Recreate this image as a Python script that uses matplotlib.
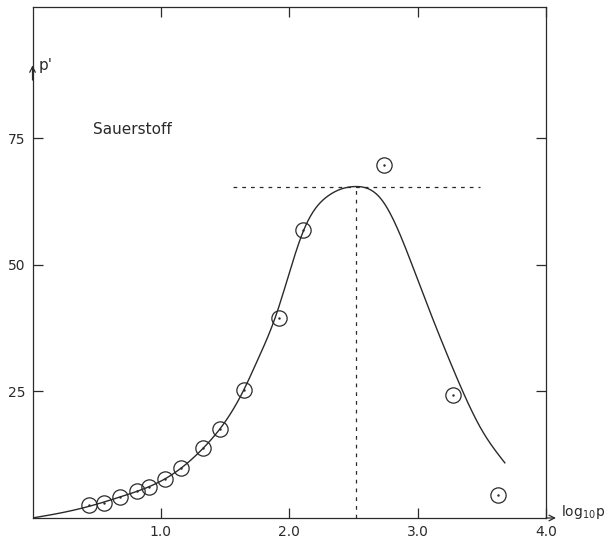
import numpy as np
import matplotlib.pyplot as plt

# measured points (log10 p, p')
meas_x = [0.44, 0.56, 0.685, 0.816, 0.908, 1.034, 1.157, 1.328, 1.459, 1.65,
          1.92, 2.11, 2.74, 3.28, 3.63]
meas_y = [2.5, 3.0, 4.1, 5.4, 6.1, 7.7, 9.9, 13.8, 17.6, 25.2,
          39.6, 57.0, 69.7, 24.4, 4.6]

# theoretical curve
curve_x = [0.0, 0.2, 0.44, 0.7, 0.9, 1.03, 1.16, 1.33, 1.46, 1.64, 1.75, 1.895,
           2.115, 2.30, 2.52, 2.72, 2.98, 3.11, 3.24, 3.37, 3.50, 3.68]
curve_y = [0.0, 0.9, 2.3, 4.3, 6.1, 7.7, 9.9, 13.8, 17.6, 25.0, 31.0, 39.9,
           57.0, 63.6, 65.5, 62.9, 48.5, 39.9, 31.7, 24.0, 17.4, 10.9]

peak_x = 2.52
peak_y = 65.5
hline_x = [1.56, 3.49]

xticks = [1.0, 2.0, 3.0, 4.0]
yticks = [25, 50, 75]


def natural_spline(xk, yk, xs):
    xk = np.asarray(xk, float)
    yk = np.asarray(yk, float)
    n = len(xk)
    h = np.diff(xk)
    A = np.zeros((n, n))
    b = np.zeros(n)
    A[0, 0] = A[-1, -1] = 1.0
    for i in range(1, n - 1):
        A[i, i - 1] = h[i - 1]
        A[i, i] = 2 * (h[i - 1] + h[i])
        A[i, i + 1] = h[i]
        b[i] = 6 * ((yk[i + 1] - yk[i]) / h[i] - (yk[i] - yk[i - 1]) / h[i - 1])
    m = np.linalg.solve(A, b)
    idx = np.clip(np.searchsorted(xk, xs) - 1, 0, n - 2)
    x0, x1 = xk[idx], xk[idx + 1]
    hh = x1 - x0
    t0 = x1 - xs
    t1 = xs - x0
    return (m[idx] * t0 ** 3 / (6 * hh) + m[idx + 1] * t1 ** 3 / (6 * hh)
            + (yk[idx] / hh - m[idx] * hh / 6) * t0
            + (yk[idx + 1] / hh - m[idx + 1] * hh / 6) * t1)


ink = "#2a2a2a"
plt.rcParams['font.family'] = ['DejaVu Sans']

fig = plt.figure(figsize=(6.09, 5.38), dpi=100)
ax = fig.add_axes([0.0534, 0.0372, 0.843, 0.950])

xs = np.linspace(curve_x[0], curve_x[-1], 400)
ax.plot(xs, natural_spline(curve_x, curve_y, xs), color=ink, lw=1.0)

ax.plot(meas_x, meas_y, 'o', ms=11, mfc='none', mec=ink, mew=0.9)
ax.plot(meas_x, meas_y, '.', ms=1.5, color=ink)

ax.plot(hline_x, [peak_y, peak_y], color=ink, lw=0.9, dashes=(3, 4))
ax.plot([peak_x, peak_x], [0, peak_y], color=ink, lw=0.9, dashes=(3, 4))

ax.set_xlim(0, 4.0)
ax.set_ylim(0, 101)
ax.set_xticks(xticks)
ax.set_xticklabels(["%.1f" % v for v in xticks])
ax.set_yticks(yticks)
ax.tick_params(direction='in', length=7, width=0.9, color=ink, labelsize=10,
               labelcolor=ink, top=True, right=True, pad=5)
for s in ax.spines.values():
    s.set_color(ink)
    s.set_linewidth(0.9)

# axis arrows and labels
ax.annotate('', xy=(4.1, 0), xytext=(3.98, 0), annotation_clip=False,
            arrowprops=dict(arrowstyle='->', color=ink, lw=0.9))
ax.text(4.12, 1.2, 'log$_{10}$p', fontsize=10, color=ink, va='center',
        ha='left', clip_on=False)
ax.annotate('', xy=(0, 90), xytext=(0, 86), annotation_clip=False,
            arrowprops=dict(arrowstyle='->', color=ink, lw=0.9))
ax.text(0.05, 89.5, "p'", fontsize=11, color=ink, va='center', ha='left')

ax.text(0.47, 76.8, 'Sauerstoff', fontsize=11, color=ink, va='center',
        ha='left')

fig.savefig('out.png', dpi=100)
